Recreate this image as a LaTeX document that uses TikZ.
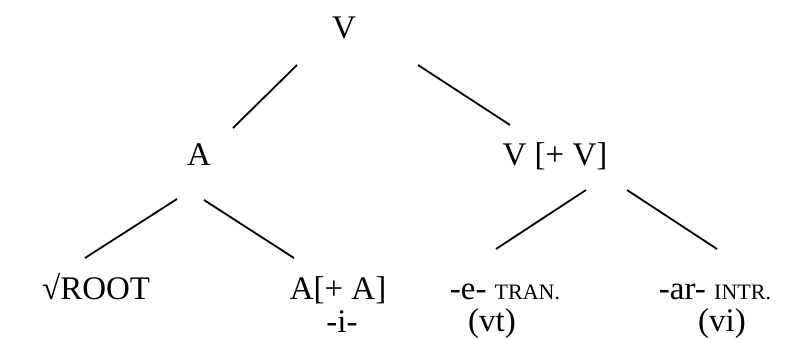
\documentclass[tikz,border=0pt]{standalone}
\usepackage{fontspec}
\setmainfont{Liberation Serif}
\begin{document}
\begin{tikzpicture}[x=1pt,y=-1pt,
  lbl/.style={inner sep=0pt, anchor=base, font=\fontsize{33}{38}\selectfont},
  edge/.style={line width=1.8pt}]
\useasboundingbox (0,0) rectangle (798,338);
\newcommand{\smc}[1]{{\fontsize{22}{25}\selectfont #1}}
% nodes
\node[lbl] (V) at (344,38) {V};
\node[lbl] (A) at (199,165) {A};
\node[lbl] (VV) at (555,165) {V [+ V]};
\node[lbl,anchor=base west] (root) at (42,299) {√ROOT};
\node[lbl] (AA) at (338,299) {A[+ A]};
\node[lbl] (e) at (505,299) {-e- \smc{TRAN.}};
\node[lbl] (ar) at (715,299) {-ar- \smc{INTR.}};
\node[lbl] (i) at (342,332) {-i-};
\node[lbl] (vt) at (492,331) {(vt)};
\node[lbl] (vi) at (722,331) {(vi)};
% connector ends
\coordinate (VAa) at (297,65);  \coordinate (VAb) at (233,128);
\coordinate (VVa) at (418,65);  \coordinate (VVb) at (510,125);
\coordinate (ARa) at (177,199); \coordinate (ARb) at (85,258);
\coordinate (AAa) at (204,200); \coordinate (AAb) at (294,258);
\coordinate (VEa) at (586,190); \coordinate (VEb) at (496,249);
\coordinate (VRa) at (627,190); \coordinate (VRb) at (717,249);
\draw[edge] (VAa) -- (VAb);
\draw[edge] (VVa) -- (VVb);
\draw[edge] (ARa) -- (ARb);
\draw[edge] (AAa) -- (AAb);
\draw[edge] (VEa) -- (VEb);
\draw[edge] (VRa) -- (VRb);
\end{tikzpicture}
\end{document}
